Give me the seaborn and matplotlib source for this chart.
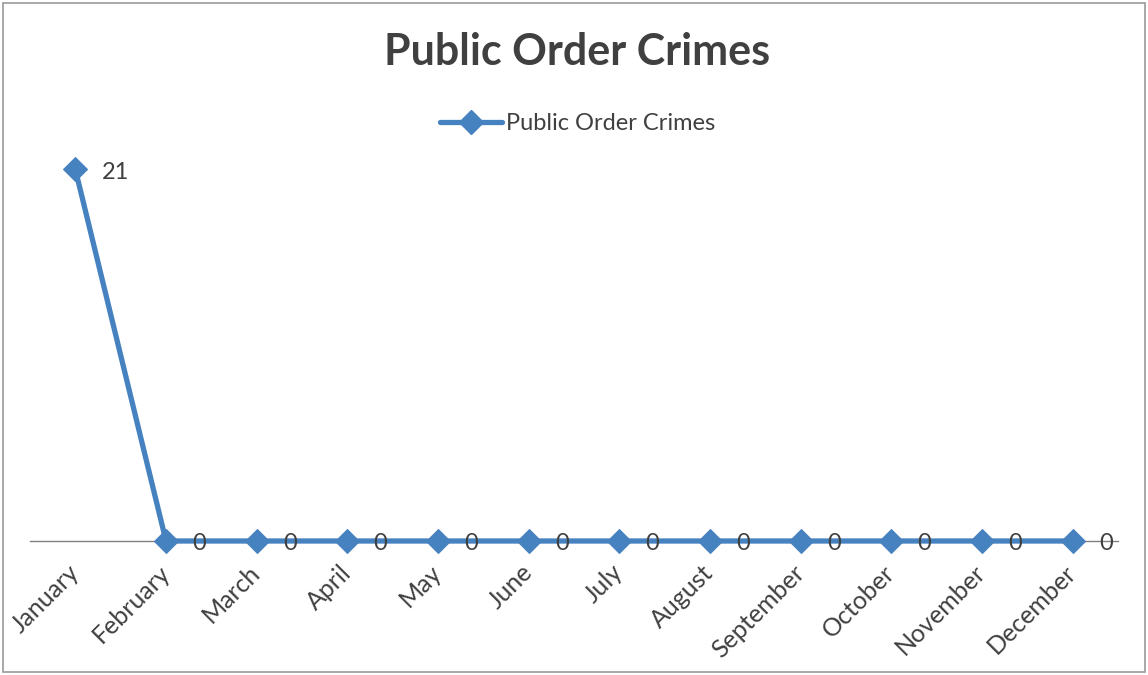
import matplotlib
matplotlib.use("Agg")
import matplotlib.pyplot as plt
import seaborn as sns
import pandas as pd
from matplotlib.patches import Rectangle
from matplotlib.lines import Line2D

months = ["January", "February", "March", "April", "May", "June", "July",
          "August", "September", "October", "November", "December"]
crimes = [21, 0, 0, 0, 0, 0, 0, 0, 0, 0, 0, 0]
series_name = "Public Order Crimes"
title = "Public Order Crimes"

sns.set_style("white")
plt.rcParams['font.family'] = ['Lato', 'DejaVu Sans']

LINE = '#4682c0'
TXT = '#404040'

df = pd.DataFrame({"pos": range(len(months)), "value": crimes})

fig = plt.figure(figsize=(11.48, 6.75), dpi=100)
ax = fig.add_axes([30/1148, (675-541)/675, (1118-30)/1148, (541-150)/675])

sns.lineplot(data=df, x="pos", y="value", ax=ax, color=LINE, linewidth=3.8,
             marker='D', markersize=12, markeredgecolor=LINE, sort=False,
             clip_on=False, zorder=3)

ax.set_xlim(-0.5, len(months) - 0.5)
ax.set_ylim(0, 22.1)
ax.set_xticks(range(len(months)))
ax.set_xticklabels(months, rotation=45, ha='right', va='center',
                   rotation_mode='anchor', fontsize=18, color=TXT)
ax.tick_params(axis='x', length=0, pad=20)
ax.set_yticks([])
ax.set_xlabel("")
ax.set_ylabel("")
for s in ['top', 'left', 'right']:
    ax.spines[s].set_visible(False)
ax.spines['bottom'].set_color('#808080')
ax.spines['bottom'].set_linewidth(1.0)
ax.spines['bottom'].set_zorder(1)

for i, v in enumerate(crimes):
    ax.annotate(str(v), (i, v), xytext=(19, -2), textcoords='offset points',
                ha='left', va='center', fontsize=17, color=TXT, zorder=5,
                annotation_clip=False)

fig.text(577/1148, 1 - 52/675, title, ha='center', va='center',
         fontsize=31, fontweight='bold', color=TXT)

handle = Line2D([], [], color=LINE, linewidth=3.8, marker='D', markersize=12,
                markeredgecolor=LINE)
fig.legend([handle], [series_name], loc='center', bbox_to_anchor=(578/1148, 1 - 124/675),
           frameon=False, fontsize=17, handlelength=2.6, handletextpad=0.2,
           labelcolor=TXT)

fig.patches.append(Rectangle((3/1148, 3/675), 1 - 6/1148, 1 - 6/675,
                             transform=fig.transFigure, fill=False,
                             edgecolor='#9a9a9a', linewidth=1.2))

fig.savefig("out.png", dpi=100)
